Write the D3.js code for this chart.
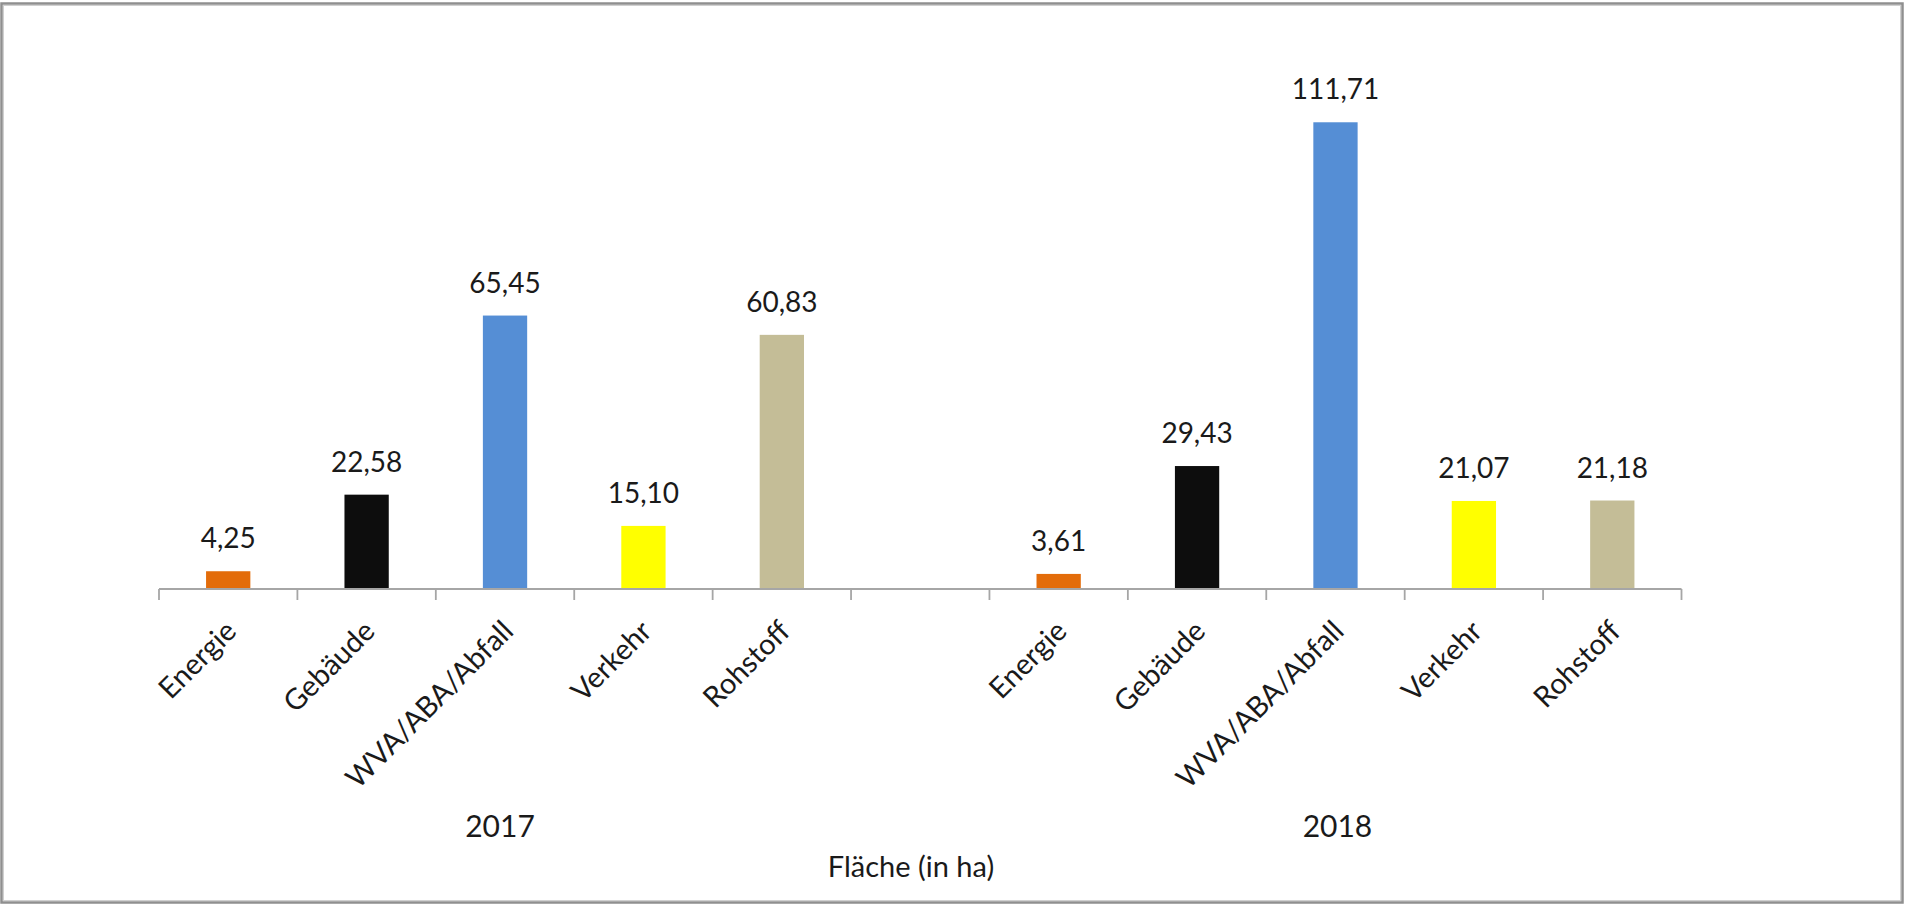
<!DOCTYPE html>
<html>
<head>
<meta charset="utf-8">
<script src="https://cdn.jsdelivr.net/npm/d3@7"></script>
<style>
  html, body { margin: 0; padding: 0; background: #fff; }
  svg { display: block; }
  text { font-family: Lato, "Open Sans", sans-serif; fill: #1a1a1a; }
</style>
</head>
<body>
<svg id="chart" width="1905" height="906"></svg>
<script>
// ---- data ----
const years = ["2017", "2018"];
const categories = ["Energie", "Gebäude", "WVA/ABA/Abfall", "Verkehr", "Rohstoff"];
const values2017 = [4.25, 22.58, 65.45, 15.10, 60.83];
const values2018 = [3.61, 29.43, 111.71, 21.07, 21.18];
const categoryColors = ["#E36C0A", "#0D0D0D", "#558ED5", "#FFFF00", "#C4BD97"];
const axisTitle = "Fläche (in ha)";

const seriesByYear = { "2017": values2017, "2018": values2018 };

// ---- build rows (with an empty gap slot between years) ----
const slots = [];
years.forEach((yr, yi) => {
  categories.forEach((c, ci) => slots.push({ key: yr + "|" + c, year: yr, cat: c, ci, value: seriesByYear[yr][ci] }));
  if (yi < years.length - 1) slots.push({ key: "gap" + yi, gap: true });
});

const svg = d3.select("#chart");

// outer frame
svg.append("rect").attr("x", 1.5).attr("y", 3.5).attr("width", 1901).attr("height", 899)
  .attr("fill", "#fff").attr("stroke", "#8f8f8f").attr("stroke-width", 2.5);
svg.append("rect").attr("x", 3.5).attr("y", 5.5).attr("width", 1897).attr("height", 895)
  .attr("fill", "none").attr("stroke", "#d0d0d0").attr("stroke-width", 1);

const axisY = 589;
const x = d3.scaleBand().domain(slots.map(d => d.key)).range([159, 1681.5]).padding(0);
const y = d3.scaleLinear().domain([0, 120]).range([axisY, axisY - 120 * 4.178]);
const bw = x.bandwidth();
const barW = bw * 0.32;

const locale = d3.formatLocale({ decimal: ",", thousands: ".", grouping: [3], currency: ["", " €"] });
const fmt = locale.format(".2f");

const data = slots.filter(d => !d.gap);

// bars
svg.append("g").selectAll("rect").data(data).join("rect")
  .attr("x", d => x(d.key) + (bw - barW) / 2)
  .attr("width", barW)
  .attr("y", d => y(d.value))
  .attr("height", d => y(0) - y(d.value))
  .attr("fill", d => categoryColors[d.ci]);

// value labels
svg.append("g").selectAll("text").data(data).join("text")
  .attr("x", d => x(d.key) + bw / 2)
  .attr("y", d => y(d.value) - 23)
  .attr("text-anchor", "middle")
  .attr("font-size", 28)
  .text(d => fmt(d.value));

// axis line + ticks at band boundaries
const axisG = svg.append("g");
axisG.append("line").attr("x1", x.range()[0]).attr("x2", x.range()[1])
  .attr("y1", axisY).attr("y2", axisY).attr("stroke", "#a6a6a6").attr("stroke-width", 1.8);
const tickXs = slots.map(d => x(d.key)).concat([x.range()[1]]);
axisG.selectAll("line.tick").data(tickXs).join("line").attr("class", "tick")
  .attr("x1", d => d).attr("x2", d => d)
  .attr("y1", axisY).attr("y2", axisY + 11)
  .attr("stroke", "#a6a6a6").attr("stroke-width", 1.8);

// rotated category labels
svg.append("g").selectAll("text").data(data).join("text")
  .attr("text-anchor", "end")
  .attr("font-size", 29)
  .attr("transform", d => `translate(${x(d.key) + bw / 2 + 10},${axisY + 44}) rotate(-45)`)
  .text(d => d.cat);

// year labels
const yearShift = { "2017": -5, "2018": 2 };
svg.append("g").selectAll("text").data(years).join("text")
  .attr("x", yr => {
    const ks = data.filter(d => d.year === yr).map(d => x(d.key));
    return (d3.min(ks) + d3.max(ks) + bw) / 2 + yearShift[yr];
  })
  .attr("y", 837)
  .attr("text-anchor", "middle")
  .attr("font-size", 30)
  .text(yr => yr);

// axis title
svg.append("text")
  .attr("x", 911).attr("y", 877)
  .attr("text-anchor", "middle")
  .attr("font-size", 29)
  .text(axisTitle);
</script>
</body>
</html>
